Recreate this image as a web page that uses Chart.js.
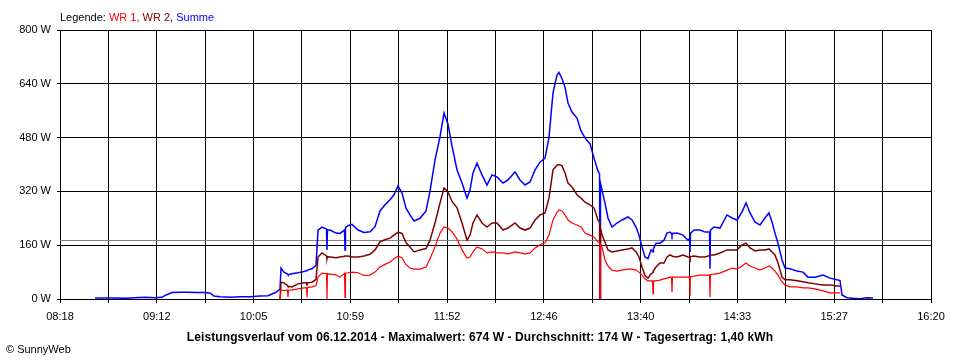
<!DOCTYPE html>
<html>
<head>
<meta charset="utf-8">
<script src="https://cdn.jsdelivr.net/npm/chart.js@4/dist/chart.umd.min.js"></script>
<style>
  html, body { margin: 0; padding: 0; background: #fff; }
  #wrap { position: relative; width: 960px; height: 360px; overflow: hidden; font-family: "Liberation Sans", Arial, sans-serif; }
  #c { position: absolute; left: 0; top: 0; }
  #legend { position: absolute; left: 60px; top: 10px; font-size: 11px; line-height: 14px; white-space: nowrap; color: #000; }
  #title { position: absolute; left: 0; width: 960px; top: 330px; text-align: center; font-size: 12px; letter-spacing: 0.1px; font-weight: bold; line-height: 14px; color: #000; white-space: nowrap; }
  #copy { position: absolute; left: 6px; top: 342px; font-size: 11px; line-height: 14px; color: #000; white-space: nowrap; }
</style>
</head>
<body>
<div id="wrap">
  <canvas id="c" width="960" height="360"></canvas>
  <div id="legend">Legende: <span style="color:#ff0000">WR 1,</span> <span style="color:#800000">WR 2,</span> <span style="color:#0000ff">Summe</span></div>
  <div id="title">Leistungsverlauf vom 06.12.2014 - Maximalwert: 674 W - Durchschnitt: 174 W - Tagesertrag: 1,40 kWh</div>
  <div id="copy">© SunnyWeb</div>
</div>
<script>
// ---- data ----
const xAxisStart = "08:18";
const xAxisEnd = "16:20";
const tickLabels = ["08:18","09:12","10:05","10:59","11:52","12:46","13:40","14:33","15:27","16:20"];
const yTicksMax = 800;
const yStep = 160;
const average = 174;

const times = [
"08:37:22","08:42:54","08:48:26","08:53:58","08:59:30","09:05:02","09:10:34","09:14:27","09:16:40","09:19:59","09:24:24","09:28:50","09:33:15","09:37:41","09:41:01","09:43:13","09:46:33","09:52:05","09:57:37","10:03:09","10:08:41","10:13:06","10:17:32","10:19:12",
"10:19:45","10:20:18","10:21:57","10:23:55","10:24:10","10:24:25","10:26:23","10:29:42","10:33:02","10:34:26","10:34:41","10:34:56","10:37:27","10:39:40","10:40:47","10:42:59","10:45:30","10:45:45","10:46:00","10:47:25","10:50:44","10:52:57","10:55:28","10:55:43","10:55:58",
"10:57:23","10:59:35","11:02:55","11:06:14","11:09:33","11:12:19","11:15:05","11:17:51","11:20:37","11:22:50",
"11:25:03","11:27:16","11:29:28","11:31:41","11:33:54","11:37:13","11:40:32","11:42:45","11:45:31","11:48:17",
"11:50:30","11:52:43","11:54:56","11:57:42","12:00:28","12:03:14","12:04:53","12:06:33","12:08:46","12:11:32",
"12:14:18","12:17:04","12:19:50","12:23:09","12:25:55","12:29:48","12:32:34","12:35:20","12:38:06","12:40:52",
"12:43:38","12:46:24","12:48:36","12:50:49","12:53:02","12:54:08","12:55:48","12:57:28","12:59:07","13:01:20",
"13:04:06","13:06:19","13:08:32","13:11:18","13:13:31","13:15:43",
"13:16:35","13:16:50","13:17:05",
"13:17:56","13:19:36","13:21:15","13:23:28","13:26:14","13:29:00","13:32:20","13:34:32","13:36:45","13:38:25","13:40:04","13:41:44","13:43:24","13:45:03",
"13:45:55","13:46:10","13:46:25",
"13:47:49","13:50:02","13:52:15","13:53:54","13:55:34",
"13:56:25","13:56:40","13:56:55",
"13:59:27","14:02:46","14:05:32",
"14:06:23","14:06:38","14:06:53",
"14:08:51","14:12:10","14:14:56",
"14:17:27","14:17:42","14:17:57",
"14:19:55","14:23:14","14:27:07","14:29:53","14:32:39","14:35:25","14:37:38","14:39:50","14:42:36","14:45:22","14:48:08","14:50:21","14:52:01","14:53:40","14:55:20","14:57:33","14:59:12","15:01:58","15:05:51","15:09:10","15:11:56","15:15:49","15:20:14","15:24:07","15:27:59","15:29:39",
"15:30:45","15:33:31","15:36:50","15:40:43","15:44:35","15:47:54"
];

const summe = [
3,3,3,2,4,5,4,5,12,19,20,20,19,19,18,9,7,5,7,7,9,10,20,27,
30,92,80,74,72,72,75,78,82,84,85,86,90,100,205,214,208,146,206,205,196,195,205,146,212,
218,222,205,198,200,215,262,280,295,310,
336,315,270,250,232,240,262,320,413,482,
553,520,455,384,345,300,324,375,404,369,
339,369,363,345,354,378,354,339,348,384,
407,419,480,613,666,674,655,630,583,556,
538,500,479,462,419,380,
372,0,345,
324,285,241,214,226,235,244,235,214,190,155,125,120,146,
143,140,150,
166,166,175,196,199,
195,190,195,
196,190,175,
180,140,195,
205,205,199,
200,90,205,
214,211,250,241,235,259,286,256,229,220,241,256,229,196,166,116,92,90,83,80,65,65,71,62,57,55,
12,4,2,1,4,3
];

const wr1 = [
null,null,null,null,null,null,null,null,null,null,null,null,null,null,null,null,null,null,null,null,null,null,null,null,
0,27,25,26,5,26,27,30,33,34,5,34,36,40,65,77,75,0,75,74,72,65,76,5,77,
78,80,78,70,71,80,95,103,110,120,
128,122,102,92,89,89,95,120,155,196,
214,211,200,178,146,122,125,140,155,149,
137,140,137,137,134,140,137,134,137,152,
161,167,190,235,258,265,262,250,235,226,
220,214,196,190,184,170,
168,0,162,
155,116,98,86,83,86,89,89,86,80,71,60,54,54,
54,15,54,
54,56,60,62,65,
64,20,65,
65,65,65,
66,10,67,
68,71,71,
72,5,73,
74,77,86,92,89,98,107,98,92,86,92,98,92,83,71,51,42,36,36,33,33,30,24,18,18,18,
null,null,null,null,null,null
];

const wr2 = [
null,null,null,null,null,null,null,null,null,null,null,null,null,null,null,null,null,null,null,null,null,null,null,null,
0,50,48,40,38,38,36,45,48,48,40,48,50,58,125,137,128,120,126,125,123,125,127,128,128,
128,125,125,128,133,146,170,176,181,190,
199,195,168,155,140,146,150,175,226,285,
330,318,290,271,226,175,190,226,250,226,
214,226,226,205,211,226,211,205,211,235,
250,256,300,384,398,400,396,375,345,333,
310,300,288,280,271,235,
228,0,210,
190,169,146,140,143,146,149,152,140,125,95,70,62,75,
78,80,84,
95,107,107,125,131,
129,128,127,
125,131,125,
124,120,126,
128,125,125,
129,131,131,
131,137,146,146,146,161,166,152,143,146,146,149,140,131,107,65,57,57,54,51,48,45,42,42,39,39,
null,null,null,null,null,null
];

// ---- helpers ----
function toMin(s) {
  const p = s.split(":").map(Number);
  return p[0] * 60 + p[1] + (p[2] || 0) / 60;
}
function pts(vals) {
  return times.map((t, i) => ({ x: toMin(t), y: vals[i] }));
}
const xMin = toMin(xAxisStart);
const xMax = toMin(xAxisEnd);
const nGrid = (tickLabels.length - 1) * 2;

Chart.defaults.font.family = '"Liberation Sans", Arial, sans-serif';
Chart.defaults.font.size = 11;
Chart.defaults.color = "#000";

new Chart(document.getElementById("c"), {
  type: "line",
  data: {
    datasets: [
      { label: "WR 1", data: pts(wr1), borderColor: "#ff0000", borderWidth: 1.2, pointRadius: 0, tension: 0, order: 0, spanGaps: false },
      { label: "WR 2", data: pts(wr2), borderColor: "#800000", borderWidth: 1.5, pointRadius: 0, tension: 0, order: 1, spanGaps: false },
      { label: "Summe", data: pts(summe), borderColor: "#0000ff", borderWidth: 1.5, pointRadius: 0, tension: 0, order: 2, spanGaps: false },
      { label: "Durchschnitt", data: [{ x: xMin, y: average }, { x: xMax, y: average }], borderColor: "#808080", borderWidth: 1, pointRadius: 0, order: 3 }
    ]
  },
  options: {
    responsive: false,
    animation: false,
    events: [],
    layout: { padding: { left: 0, right: 29, top: 30, bottom: 0 } },
    plugins: { legend: { display: false }, tooltip: { enabled: false }, title: { display: false } },
    scales: {
      x: {
        type: "linear",
        min: xMin,
        max: xMax,
        afterBuildTicks: (scale) => {
          const arr = [];
          for (let i = 0; i <= nGrid; i++) arr.push({ value: xMin + (xMax - xMin) * i / nGrid });
          scale.ticks = arr;
        },
        afterFit: (scale) => { scale.height = 61; },
        grid: { color: "#000", lineWidth: 1, tickLength: 4, drawTicks: true },
        border: { color: "#000", width: 1 },
        ticks: {
          autoSkip: false,
          maxRotation: 0,
          padding: 7,
          callback: function (v, i) { return i % 2 === 0 ? tickLabels[i / 2] : ""; }
        }
      },
      y: {
        min: 0,
        max: yTicksMax,
        afterFit: (scale) => { scale.width = 60; },
        grid: { color: "#000", lineWidth: 1, tickLength: 3, drawTicks: true },
        border: { color: "#000", width: 1 },
        ticks: { stepSize: yStep, padding: 6, callback: (v) => v + " W" }
      }
    }
  }
});
</script>
</body>
</html>
